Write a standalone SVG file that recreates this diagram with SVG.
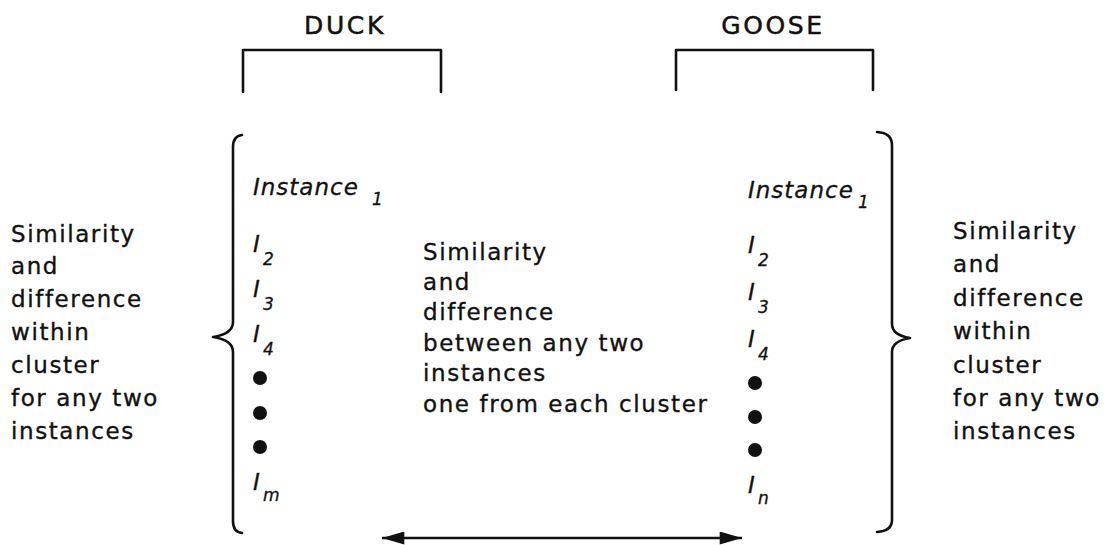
<svg xmlns="http://www.w3.org/2000/svg" width="1120" height="545" viewBox="0 0 1120 545">
<style>
.t{font-family:"DejaVu Sans",Verdana,sans-serif;font-size:23px;letter-spacing:1.6px;fill:#111;stroke:#111;stroke-width:0.35}
.h{font-family:"DejaVu Sans",Verdana,sans-serif;font-size:25px;letter-spacing:2.6px;fill:#111;stroke:#111;stroke-width:0.5;text-anchor:middle}
.i{font-family:"DejaVu Sans",Verdana,sans-serif;font-style:italic;font-size:23px;letter-spacing:1px;fill:#111;stroke:#111;stroke-width:0.3}
.s{font-family:"DejaVu Sans",Verdana,sans-serif;font-style:italic;font-size:17px;fill:#111;stroke:#111;stroke-width:0.3}
.ln{fill:none;stroke:#111;stroke-width:2.6;stroke-linecap:round;stroke-linejoin:round}
.dot{fill:#111}
</style>
<defs>
<marker id="ah" viewBox="0 0 24 14" refX="24" refY="7" markerWidth="24" markerHeight="13" markerUnits="userSpaceOnUse" orient="auto-start-reverse">
<path d="M0,0 L24,7 L0,14 Z" fill="#111"/>
</marker>
</defs>
<g id="duck">
<text class="h" x="345" y="34">DUCK</text>
<path class="ln" d="M243,92 V50 H441 V92"/>
</g>
<g id="goose">
<text class="h" x="773" y="34">GOOSE</text>
<path class="ln" d="M676,90 V50 H873 V90"/>
</g>
<g id="duck-cluster">
<path class="ln" d="M242,135 Q233,136 233,147 V322 Q233,334 213,337 Q233,340 233,352 V521 Q233,532 242,533"/>
<text class="i" x="253" y="195">Instance</text>
<text class="s" x="372" y="205">1</text>
<text class="i" x="253" y="252">I</text><text class="s" x="263" y="265">2</text>
<text class="i" x="253" y="297">I</text><text class="s" x="263" y="310">3</text>
<text class="i" x="253" y="342">I</text><text class="s" x="263" y="355">4</text>
<circle class="dot" cx="260" cy="378" r="7"/>
<circle class="dot" cx="260" cy="413" r="7"/>
<circle class="dot" cx="260" cy="447" r="7"/>
<text class="i" x="253" y="490">I</text><text class="s" x="263" y="501">m</text>
</g>
<g id="goose-cluster">
<path class="ln" d="M877,132 Q892,133 892,145 V324 Q892,335 910,338 Q892,341 892,352 V520 Q892,531 877,532"/>
<text class="i" x="748" y="198">Instance</text>
<text class="s" x="858" y="208">1</text>
<text class="i" x="748" y="253">I</text><text class="s" x="758" y="266">2</text>
<text class="i" x="748" y="300">I</text><text class="s" x="758" y="313">3</text>
<text class="i" x="748" y="347">I</text><text class="s" x="758" y="360">4</text>
<circle class="dot" cx="755" cy="383" r="7"/>
<circle class="dot" cx="755" cy="417" r="7"/>
<circle class="dot" cx="755" cy="450" r="7"/>
<text class="i" x="748" y="493">I</text><text class="s" x="758" y="504">n</text>
</g>
<g id="within-left">
<text class="t"><tspan x="11" y="242">Similarity</tspan><tspan x="11" y="274">and</tspan><tspan x="11" y="307">difference</tspan><tspan x="11" y="340">within</tspan><tspan x="11" y="373">cluster</tspan><tspan x="11" y="406">for any two</tspan><tspan x="11" y="439">instances</tspan></text>
</g>
<g id="between">
<text class="t"><tspan x="423" y="260">Similarity</tspan><tspan x="423" y="290">and</tspan><tspan x="423" y="320">difference</tspan><tspan x="423" y="351">between any two</tspan><tspan x="423" y="381">instances</tspan><tspan x="423" y="412">one from each cluster</tspan></text>
</g>
<g id="within-right">
<text class="t"><tspan x="953" y="239">Similarity</tspan><tspan x="953" y="272">and</tspan><tspan x="953" y="306">difference</tspan><tspan x="953" y="339">within</tspan><tspan x="953" y="373">cluster</tspan><tspan x="953" y="406">for any two</tspan><tspan x="953" y="439">instances</tspan></text>
</g>
<g id="connectors">
<line x1="382" y1="538" x2="742" y2="538" stroke="#111" stroke-width="2.6" marker-start="url(#ah)" marker-end="url(#ah)"/>
</g>
</svg>
